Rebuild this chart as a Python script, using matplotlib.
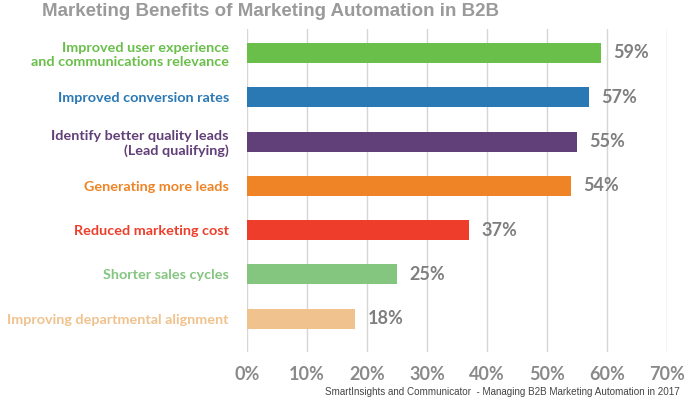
import matplotlib.pyplot as plt

# data
labels = ['Improved user experience\nand communications relevance',
          'Improved conversion rates',
          'Identify better quality leads\n(Lead qualifying)',
          'Generating more leads',
          'Reduced marketing cost',
          'Shorter sales cycles',
          'Improving departmental alignment']
values = [59, 57, 55, 54, 37, 25, 18]
colors = ['#6abf4b', '#2a78b4', '#613f78', '#ee8425', '#ee3e2b', '#84c580', '#efc28e']
ticks = [0, 10, 20, 30, 40, 50, 60, 70]

W, H = 691, 399
fig = plt.figure(figsize=(W / 100, H / 100), dpi=100)
ax = fig.add_axes([247 / W, 1 - 352 / H, 420 / W, (352 - 29) / H])

ypos = list(range(len(values)))
ax.barh(ypos, values, height=0.45, color=colors, zorder=3)

for y, v in zip(ypos, values):
    ax.text(v + 2.1, y, f'{v}%', va='center', ha='left', fontsize=13,
            fontweight='bold', color='#7f7f7f', family='Lato')

ax.set_xlim(0, 70)
ax.set_ylim(6.75, -0.54)
ax.set_xticks(ticks)
ax.set_xticklabels([f'{t}%' for t in ticks])
ax.set_yticks(ypos)
ax.set_yticklabels(labels)
for lbl, c in zip(ax.get_yticklabels(), colors):
    lbl.set_color(c)
    lbl.set_fontweight('bold')
    lbl.set_family('Lato')
    lbl.set_fontsize(10.35)
    lbl.set_multialignment('right')
for lbl in ax.get_xticklabels():
    lbl.set_color('#8a8a8a')
    lbl.set_fontweight('bold')
    lbl.set_family('Lato')
    lbl.set_fontsize(13)

ax.tick_params(axis='both', length=0)
ax.tick_params(axis='y', pad=13)
ax.tick_params(axis='x', pad=10)
ax.grid(axis='x', color='#d6d6d6', linewidth=1, zorder=0)
for s in ax.spines.values():
    s.set_visible(False)

fig.text(271 / W, 1 - 12 / H, 'Marketing Benefits of Marketing Automation in B2B',
         ha='center', va='center', fontsize=13.5, fontweight='bold', color='#9a9a9a',
         family='Liberation Sans')
fig.text(680 / W, 1 - 392 / H,
         'SmartInsights and Communicator  - Managing B2B Marketing Automation in 2017',
         ha='right', va='center', fontsize=7.1, color='#444444', family='Liberation Sans')

fig.savefig('out.png', dpi=100)
